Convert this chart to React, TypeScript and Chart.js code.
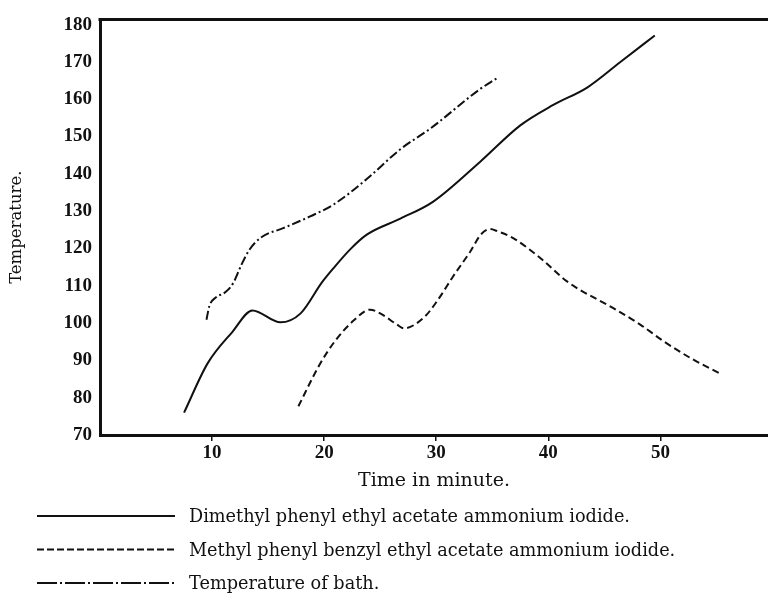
import React, { useEffect, useRef } from "react";
import { Chart, registerables } from "chart.js";

Chart.register(...registerables);

// ---- data ----
const seriesLabels = [
  "Dimethyl phenyl ethyl acetate ammonium iodide.",
  "Methyl phenyl benzyl ethyl acetate ammonium iodide.",
  "Temperature of bath.",
];

const dimethylX = [7.5, 9.6, 11.8, 13.6, 16.1, 17.9, 19.8, 20.8, 22.3, 23.8, 26.8, 29.7, 33.9, 37.5, 40.4, 43.5, 46.4, 49.5];
const dimethylY = [76, 89.2, 97.6, 103.4, 100.2, 102.6, 110.9, 114.6, 119.7, 123.7, 128, 132.5, 143.2, 153, 158.4, 163.2, 169.9, 177.1];

const benzylX = [17.7, 19.6, 21.0, 22.6, 24.1, 25.0, 26.5, 27.1, 28.9, 30.1, 31.5, 33.0, 34.0, 34.8, 35.4, 36.9, 39.3, 41.7, 45.8, 48.2, 50.3, 52.7, 55.5];
const benzylY = [77.7, 88.9, 95.3, 100.6, 103.6, 102.6, 99.6, 98.6, 101.5, 106, 112.5, 119, 123.8, 125.2, 124.7, 122.7, 117.4, 111.1, 104, 99.6, 95.1, 90.6, 86.2];

const bathX = [9.5, 9.75, 10.3, 11.2, 11.9, 12.6, 13.3, 14.3, 16.4, 18.75, 20.8, 23.8, 26.8, 29.5, 33.9, 35.4];
const bathY = [100.9, 104.5, 106.8, 108.3, 110.8, 115.5, 119.5, 122.8, 125.5, 128.6, 131.7, 138.6, 146.6, 152.2, 162.7, 165.6];

const xTicks = [10, 20, 30, 40, 50];
const yTicks = [70, 80, 90, 100, 110, 120, 130, 140, 150, 160, 170, 180];
const xRange = [0, 59.6];
const yRange = [70, 181.4];

const xTitle = "Time in minute.";
const yTitle = "Temperature.";

// ---- styles ----
const INK = "#111111";
const seriesDashes: number[][] = [[], [7, 4], [9, 3, 2, 3]];
const legendDashes: number[][] = [[], [7, 3], [20, 3, 2, 3]];

const toPoints = (xs: number[], ys: number[]) => xs.map((x, i) => ({ x, y: ys[i] }));

const paperPlugin = {
  id: "paperLegend",
  afterDraw(chart: any) {
    const ctx = chart.ctx as CanvasRenderingContext2D;
    const { left, right, top } = chart.chartArea;
    ctx.save();
    // top frame line
    ctx.strokeStyle = INK;
    ctx.lineWidth = 3;
    ctx.setLineDash([]);
    ctx.beginPath();
    ctx.moveTo(left - 1.5, top);
    ctx.lineTo(right, top);
    ctx.stroke();
    // legend rows
    chart.data.datasets.forEach((ds: any, i: number) => {
      const y = 516 + i * 33.5;
      ctx.beginPath();
      ctx.setLineDash(legendDashes[i]);
      ctx.lineWidth = 2;
      ctx.strokeStyle = INK;
      ctx.moveTo(37, y);
      ctx.lineTo(175, y);
      ctx.stroke();
      ctx.setLineDash([]);
      ctx.font = '17.7px "DejaVu Serif"';
      ctx.fillStyle = INK;
      ctx.textAlign = "left";
      ctx.textBaseline = "alphabetic";
      ctx.fillText(ds.label, 189, y + 6);
    });
    ctx.restore();
  },
};

export default function App() {
  const ref = useRef<HTMLCanvasElement | null>(null);

  useEffect(() => {
    document.body.style.margin = "0";
    if (!ref.current) return;
    const series = [
      toPoints(dimethylX, dimethylY),
      toPoints(benzylX, benzylY),
      toPoints(bathX, bathY),
    ];
    const chart = new Chart(ref.current, {
      type: "line",
      data: {
        datasets: series.map((data, i) => ({
          label: seriesLabels[i],
          data,
          borderColor: INK,
          borderWidth: 2,
          borderDash: seriesDashes[i],
          pointRadius: 0,
          fill: false,
          cubicInterpolationMode: "monotone" as const,
        })),
      },
      options: {
        animation: false,
        responsive: false,
        devicePixelRatio: 1,
        layout: { padding: { left: 0, right: 0, top: 17, bottom: 102 } },
        plugins: { legend: { display: false }, tooltip: { enabled: false } },
        scales: {
          x: {
            type: "linear",
            min: xRange[0],
            max: xRange[1],
            afterBuildTicks: (s: any) => {
              s.ticks = xTicks.map((v) => ({ value: v }));
            },
            afterFit: (s: any) => {
              s.height = 60;
            },
            grid: { drawOnChartArea: false, drawTicks: true, tickLength: 6, color: INK, lineWidth: 1.5 },
            border: { display: true, width: 3, color: INK },
            ticks: {
              autoSkip: false,
              maxRotation: 0,
              padding: 1,
              color: INK,
              font: { family: '"Liberation Serif"', size: 19, weight: "bold" },
            },
            title: {
              display: true,
              text: xTitle,
              color: INK,
              font: { family: '"DejaVu Serif"', size: 19 },
              padding: { top: 0, bottom: 3 },
            },
          },
          y: {
            type: "linear",
            min: yRange[0],
            max: yRange[1],
            afterBuildTicks: (s: any) => {
              s.ticks = yTicks.map((v) => ({ value: v }));
            },
            afterFit: (s: any) => {
              s.width = 100;
            },
            grid: { drawOnChartArea: false, drawTicks: false, color: INK },
            border: { display: true, width: 3, color: INK },
            ticks: {
              autoSkip: false,
              padding: 8,
              color: INK,
              font: { family: '"Liberation Serif"', size: 19, weight: "bold" },
            },
            title: {
              display: true,
              text: yTitle,
              color: INK,
              font: { family: '"DejaVu Serif"', size: 16.5 },
              padding: { top: 7, bottom: 0 },
            },
          },
        },
      },
      plugins: [paperPlugin],
    });
    return () => chart.destroy();
  }, []);

  return (
    <div style={{ width: 768, height: 597, background: "#fff" }}>
      <canvas ref={ref} width={768} height={597} style={{ display: "block" }} />
    </div>
  );
}
